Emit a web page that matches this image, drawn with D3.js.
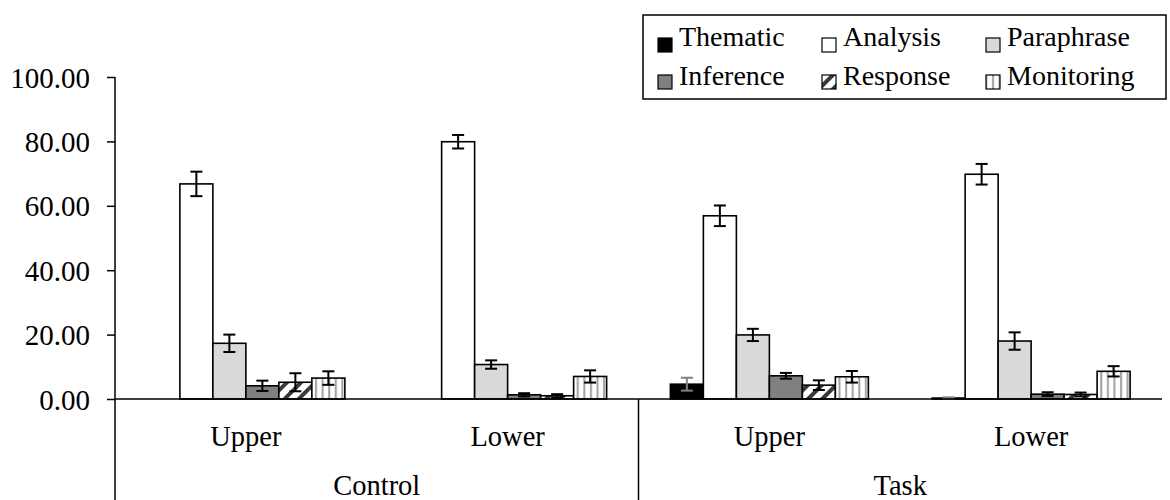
<!DOCTYPE html>
<html><head><meta charset="utf-8">
<script src="https://cdn.jsdelivr.net/npm/d3@7"></script>
<style>body{margin:0;background:#fff}svg{display:block}text{font-family:"Liberation Serif","Times New Roman",serif;fill:#000}</style>
</head><body><svg id="c" width="1170" height="500"></svg>
<script>
const groups = ["Control", "Task"];
const levels = ["Upper", "Lower"];
const series = ["Thematic", "Analysis", "Paraphrase", "Inference", "Response", "Monitoring"];
// values in order: Control-Upper, Control-Lower, Task-Upper, Task-Lower
const thematic   = [0, 0, 4.6, 0.3];
const analysis   = [66.8, 79.9, 56.9, 69.8];
const paraphrase = [17.3, 10.7, 19.9, 18.0];
const inference  = [4.1, 1.3, 7.2, 1.5];
const response   = [5.2, 1.0, 4.3, 1.4];
const monitoring = [6.5, 7.0, 6.9, 8.6];
const thematicErr   = [0, 0, 2.0, 0.2];
const analysisErr   = [3.8, 2.1, 3.2, 3.2];
const paraphraseErr = [2.7, 1.3, 1.9, 2.7];
const inferenceErr  = [1.6, 0.5, 0.9, 0.6];
const responseErr   = [2.8, 0.5, 1.5, 0.6];
const monitoringErr = [2.1, 1.9, 1.8, 1.6];
const yTicks = [0, 20, 40, 60, 80, 100];

const values = [thematic, analysis, paraphrase, inference, response, monitoring];
const errs = [thematicErr, analysisErr, paraphraseErr, inferenceErr, responseErr, monitoringErr];
const cats = [];
groups.forEach(g => levels.forEach(l => cats.push(g + "|" + l)));

const svg = d3.select("#c");
const defs = svg.append("defs");
const pr = defs.append("pattern").attr("id", "pResp").attr("patternUnits", "userSpaceOnUse")
  .attr("width", 10).attr("height", 10).attr("patternTransform", "rotate(45)");
pr.append("rect").attr("width", 10).attr("height", 10).attr("fill", "#fff");
pr.append("rect").attr("x", 0).attr("width", 4).attr("height", 10).attr("fill", "#3a3a3a");
const pm = defs.append("pattern").attr("id", "pMon").attr("patternUnits", "userSpaceOnUse")
  .attr("width", 6.6).attr("height", 10);
pm.append("rect").attr("width", 6.6).attr("height", 10).attr("fill", "#fff");
pm.append("rect").attr("x", 2).attr("width", 2).attr("height", 10).attr("fill", "#a0a0a0");

const fills = ["#000", "#fff", "#d9d9d9", "#808080", "url(#pResp)", "url(#pMon)"];
const errColors = ["#808080", "#000", "#000", "#000", "#000", "#000"];

const left = 115, right = 1162;
const y = d3.scaleLinear().domain([0, 100]).range([399, 77]);
const x0 = d3.scaleBand().domain(cats).range([left, right]).padding(0);
const x1 = d3.scaleBand().domain(series).range([0, x0.bandwidth()]).paddingInner(0).paddingOuter(0.966);

// y axis
const yAxis = d3.axisLeft(y).tickValues(yTicks).tickSize(8).tickSizeOuter(0).tickFormat(d3.format(".2f"));
const ya = svg.append("g").attr("transform", `translate(${left},0)`).call(yAxis);
ya.select(".domain").remove();
ya.selectAll(".tick line").attr("stroke", "#000").attr("stroke-width", 1.5);
ya.selectAll(".tick text").attr("x", -25).attr("dy", "0.35em").style("font-size", "29px")
  .style("font-family", "'Liberation Serif',serif");
svg.append("line").attr("x1", left).attr("x2", left).attr("y1", y(100)).attr("y2", 500)
  .attr("stroke", "#000").attr("stroke-width", 1.5);

// bars
cats.forEach((c, ci) => {
  const g = svg.append("g").attr("transform", `translate(${x0(c)},0)`);
  series.forEach((s, si) => {
    const v = values[si][ci];
    if (v <= 0) return;
    g.append("rect").attr("x", x1(s)).attr("width", x1.bandwidth())
      .attr("y", y(v)).attr("height", y(0) - y(v))
      .attr("fill", fills[si]).attr("stroke", "#000").attr("stroke-width", 1.6);
  });
  series.forEach((s, si) => {
    const v = values[si][ci], e = errs[si][ci];
    if (e <= 0) return;
    const cx = x1(s) + x1.bandwidth() / 2;
    const col = errColors[si];
    const eg = g.append("g").attr("stroke", col).attr("stroke-width", 2);
    eg.append("line").attr("x1", cx).attr("x2", cx).attr("y1", y(v + e)).attr("y2", y(Math.max(0, v - e)));
    eg.append("line").attr("x1", cx - 6).attr("x2", cx + 6).attr("y1", y(v + e)).attr("y2", y(v + e));
    eg.append("line").attr("x1", cx - 6).attr("x2", cx + 6).attr("y1", y(Math.max(0, v - e))).attr("y2", y(Math.max(0, v - e)));
  });
});

// x baseline
svg.append("line").attr("x1", left).attr("x2", right).attr("y1", y(0)).attr("y2", y(0))
  .attr("stroke", "#000").attr("stroke-width", 1.5);
// group divider
const xg = d3.scaleBand().domain(groups).range([left, right]);
svg.append("line").attr("x1", xg("Task")).attr("x2", xg("Task")).attr("y1", y(0)).attr("y2", 500)
  .attr("stroke", "#000").attr("stroke-width", 1.5);

// category labels
cats.forEach(c => {
  svg.append("text").attr("x", x0(c) + x0.bandwidth() / 2).attr("y", 446)
    .attr("text-anchor", "middle").style("font-size", "28.5px").text(c.split("|")[1]);
});
groups.forEach(gname => {
  svg.append("text").attr("x", xg(gname) + xg.bandwidth() / 2).attr("y", 495)
    .attr("text-anchor", "middle").style("font-size", "28.5px").text(gname);
});

// legend
svg.append("rect").attr("x", 643).attr("y", 15).attr("width", 523).attr("height", 84)
  .attr("fill", "#fff").attr("stroke", "#000").attr("stroke-width", 1.5);
const colX = [658, 822, 986];
const rowBase = [46, 85];
series.forEach((s, i) => {
  const col = i % 3, row = Math.floor(i / 3);
  const sx = colX[col], by = rowBase[row];
  svg.append("rect").attr("x", sx).attr("y", by - 8 - (row === 0 ? 0 : 2)).attr("width", 14).attr("height", 14)
    .attr("fill", fills[i]).attr("stroke", "#000").attr("stroke-width", 1.2);
  svg.append("text").attr("x", sx + 21).attr("y", by).style("font-size", "28px").text(s);
});
</script></body></html>
